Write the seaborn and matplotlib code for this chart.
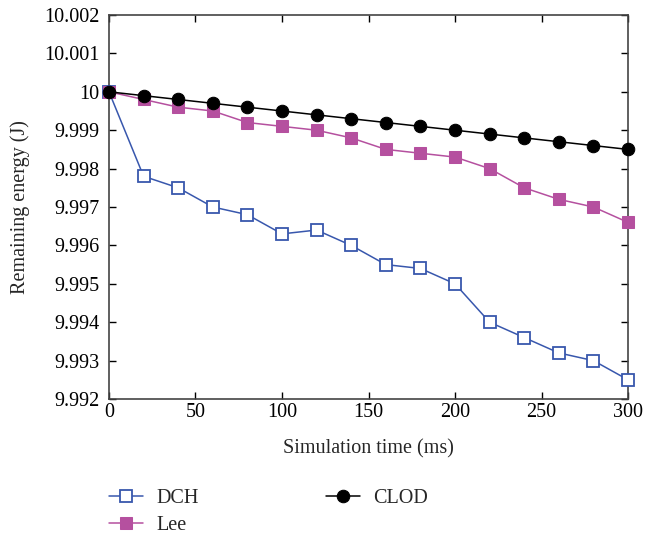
import numpy as np
import pandas as pd
import matplotlib
matplotlib.use("Agg")
import matplotlib.pyplot as plt
import seaborn as sns

# data
time_ms = [0, 20, 40, 60, 80, 100, 120, 140, 160, 180, 200, 220, 240, 260, 280, 300]
dch = [10.0, 9.9978, 9.9975, 9.997, 9.9968, 9.9963, 9.9964, 9.996, 9.9955, 9.9954,
       9.995, 9.994, 9.9936, 9.9932, 9.993, 9.9925]
lee = [10.0, 9.9998, 9.9996, 9.9995, 9.9992, 9.9991, 9.999, 9.9988, 9.9985, 9.9984,
       9.9983, 9.998, 9.9975, 9.9972, 9.997, 9.9966]
clod = [10.0, 9.9999, 9.9998, 9.9997, 9.9996, 9.9995, 9.9994, 9.9993, 9.9992, 9.9991,
        9.999, 9.9989, 9.9988, 9.9987, 9.9986, 9.9985]
y_ticks = [9.992, 9.993, 9.994, 9.995, 9.996, 9.997, 9.998, 9.999, 10.0, 10.001, 10.002]
y_labels = ["9.992", "9.993", "9.994", "9.995", "9.996", "9.997", "9.998", "9.999",
            "10", "10.001", "10.002"]
x_ticks = [0, 50, 100, 150, 200, 250, 300]

sns.set_style("ticks")
plt.rcParams["font.family"] = ["Liberation Serif", "DejaVu Serif"]
fs = 14.5

fig = plt.figure(figsize=(6.55, 5.34), dpi=100)
ax = fig.add_axes([0.1664, 0.2528, 0.7924, 0.7191])

sns.lineplot(x=time_ms, y=dch, ax=ax, color="#3857ad", lw=1.1, marker="s",
             markersize=8.8, markerfacecolor="white", markeredgecolor="#3857ad",
             markeredgewidth=1.3, label="DCH", clip_on=False, zorder=3)
sns.lineplot(x=time_ms, y=lee, ax=ax, color="#b5509f", lw=1.1, marker="s",
             markersize=8.8, markerfacecolor="#b5509f", markeredgecolor="#b5509f",
             label="Lee", clip_on=False, zorder=4)
sns.lineplot(x=time_ms, y=clod, ax=ax, color="black", lw=1.1, marker="o",
             markersize=9, markerfacecolor="black", markeredgecolor="black",
             label="CLOD", clip_on=False, zorder=5)

ax.set_xlim(0, 300)
ax.set_ylim(9.992, 10.002)
ax.set_xticks(x_ticks)
ax.set_yticks(y_ticks)
ax.set_yticklabels(y_labels)
ax.tick_params(direction="in", top=True, right=True, length=5, width=1,
               labelsize=fs, colors="black")
ax.tick_params(axis="y", pad=7)
ax.tick_params(axis="x", pad=3)
for sp in ax.spines.values():
    sp.set_color("#444444")
    sp.set_linewidth(1.2)
ax.set_xlabel("Simulation time (ms)", fontsize=fs, labelpad=12)
ax.set_ylabel("Remaining energy (J)", fontsize=fs, labelpad=10)

handles, labels = ax.get_legend_handles_labels()
ax.get_legend().remove()
fig.legend(handles, labels, ncol=2, loc="upper left", bbox_to_anchor=(0.1664, 0.085),
           frameon=False, fontsize=fs, columnspacing=6.3, handlelength=1.7,
           handletextpad=0.65, labelspacing=0.4, borderaxespad=0, borderpad=0)

fig.savefig("out.png", dpi=100)
